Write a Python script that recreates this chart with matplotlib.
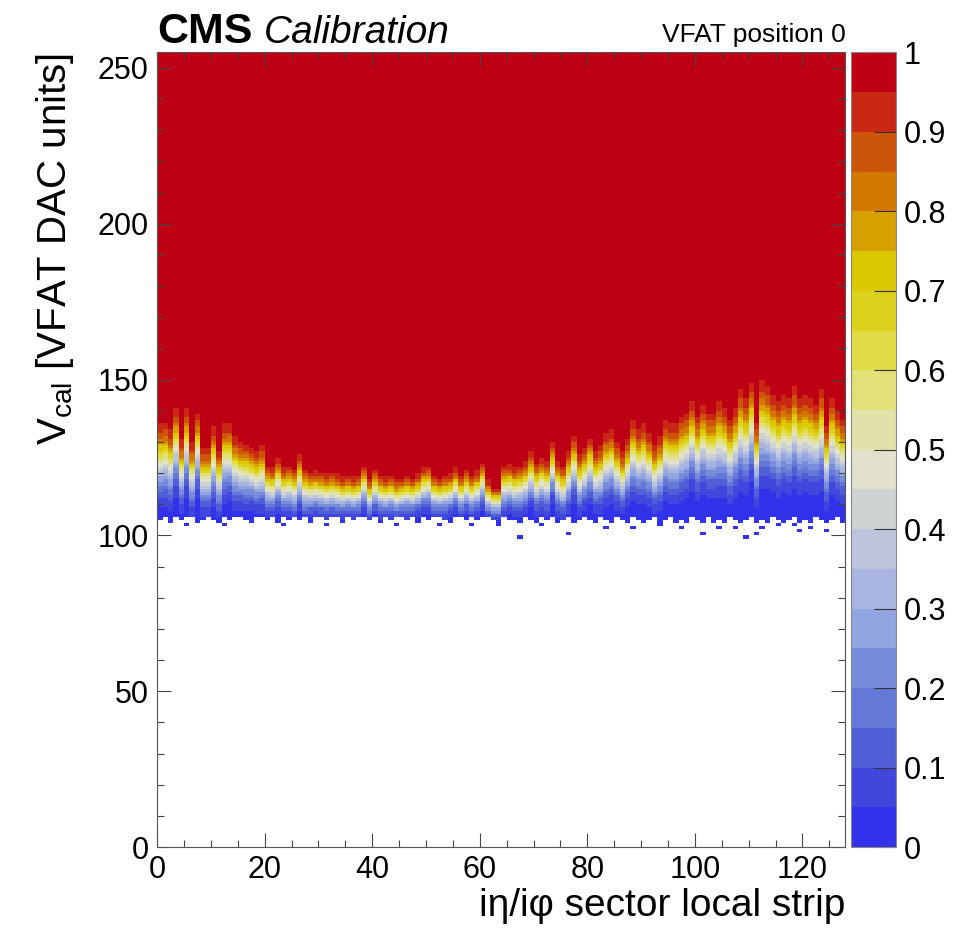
import math
import numpy as np
import matplotlib
matplotlib.use("Agg")
import matplotlib.pyplot as plt
from matplotlib.colors import ListedColormap, BoundaryNorm
from matplotlib.ticker import MultipleLocator

plt.rcParams['font.family'] = ['Liberation Sans', 'DejaVu Sans']
plt.rcParams['mathtext.fontset'] = 'custom'
plt.rcParams['mathtext.rm'] = 'Liberation Sans'

# S-curve midpoint (Vcal) per strip
thr = [123.5, 124, 122, 128, 120, 128, 119, 127, 118, 118,
       123, 117.5, 124, 124.5, 121, 120, 119.5, 119, 118, 119,
       115, 114.5, 117, 114.5, 115, 114, 117.5, 114, 113.5, 114,
       113.5, 113, 113.5, 113, 112.5, 113, 112.5, 113, 115.5, 112,
       114.5, 113, 112.5, 113, 112, 112.5, 113, 112.5, 113.5, 115,
       115.5, 113, 112.5, 113, 113.5, 115, 113, 114.5, 113, 114,
       116.5, 112, 110.5, 110.5, 115, 115.5, 114.5, 115, 116, 118.5,
       115.5, 117, 116, 121, 116, 114.5, 118, 122, 117, 119,
       121.5, 118, 119, 122, 123, 120, 117.5, 121, 125, 123,
       124, 122, 119, 121, 125, 124, 124, 126, 127, 130,
       126, 129, 127, 127, 129, 128, 125, 128, 132, 130,
       134.5, 124, 134, 133, 131, 129, 131, 130, 133, 130,
       131, 130, 129, 132, 123, 130, 127, 125]

# S-curve width per strip (upper side)
sigma = [7.5, 7.5, 7, 8, 6.5, 8, 6.5, 7.5, 6, 6,
         7, 6, 7, 7, 6.5, 6, 6, 5.5, 5.5, 6,
         4.5, 4.5, 5, 4.5, 4.5, 4.5, 5, 4.5, 4, 4,
         4, 4, 4, 4, 3.8, 3.8, 3.8, 3.8, 4.2, 3.8,
         4, 3.8, 3.8, 3.8, 3.6, 3.6, 3.8, 3.6, 3.8, 4.2,
         4.2, 3.8, 3.6, 3.8, 3.8, 4, 3.8, 4, 3.8, 4,
         4.2, 3.5, 3, 3, 4.5, 4.5, 4.5, 4.5, 4.8, 5,
         4.8, 5, 5, 5.5, 5, 4.8, 5.5, 6, 5.5, 5.5,
         6, 5.5, 6, 6.5, 6.5, 6, 5.5, 6, 7, 6.5,
         7, 6.5, 6, 6.5, 7, 7, 7, 7.5, 7.5, 8,
         7.5, 8, 7.5, 7.5, 8.5, 8, 7.5, 8, 9, 8.5,
         9, 7.5, 9.5, 9, 8.5, 8.5, 8.5, 8.5, 9, 8.5,
         8.5, 8.5, 8, 9, 7.5, 8.5, 8, 7.5]
low_side_scale = 1.2

# lowest Vcal bin with entries per strip
floor = [105, 106, 104, 106, 105, 106, 106, 104, 105, 106,
         105, 104, 106, 105, 106, 106, 105, 104, 106, 106,
         105, 106, 104, 106, 105, 106, 105, 106, 104, 106,
         106, 105, 106, 106, 104, 106, 105, 106, 106, 105,
         106, 104, 106, 105, 106, 106, 105, 106, 104, 106,
         105, 106, 106, 105, 104, 106, 106, 105, 106, 105,
         106, 106, 105, 104, 106, 105, 105, 104, 106, 105,
         104, 106, 105, 106, 104, 105, 106, 104, 105, 106,
         105, 104, 106, 105, 104, 106, 105, 104, 106, 105,
         104, 105, 106, 104, 105, 106, 104, 105, 104, 106,
         105, 104, 106, 104, 105, 104, 106, 105, 104, 105,
         106, 104, 105, 104, 106, 105, 104, 105, 106, 104,
         105, 104, 106, 105, 104, 105, 106, 104]

# isolated low entries (strip, Vcal)
dots_strip = [67, 76, 101, 109, 111, 107, 112, 119, 124, 115, 63, 88, 97, 118,
              5, 12, 23, 31, 44, 52, 58, 71, 83, 93, 104, 121]
dots_vcal = [99, 100, 100, 99, 100, 102, 102, 101, 101, 103, 103, 102, 102, 103,
             103, 103, 103, 103, 103, 103, 103, 103, 102, 103, 102, 102]

level_colors = ['#3232eb', '#4146dc', '#505fd7', '#6478d7', '#788cdc',
                '#91a5e1', '#aab4e1', '#bec3dc', '#cdd2d2', '#e1e1cd',
                '#e1e1aa', '#e1e178', '#e1dc46', '#dcd21e', '#dcc800',
                '#d7a000', '#d27800', '#cd550a', '#c82814', '#be0014']

n_strip = len(thr)
n_vcal = 256
z = np.full((n_vcal, n_strip), np.nan)
for i in range(n_strip):
    for v in range(floor[i], n_vcal):
        d = v + 0.5 - thr[i]
        s = sigma[i] * (low_side_scale if d < 0 else 1.0)
        z[v, i] = 0.5 * (1 + math.erf(d / (math.sqrt(2) * s)))
for s, v in zip(dots_strip, dots_vcal):
    z[v, s] = 0.01
z = np.clip(z, 0, 0.9999)
z = np.ma.masked_invalid(z)

fig = plt.figure(figsize=(9.64, 9.36), dpi=100)
ax = fig.add_axes([0.163, 0.095, 0.714, 0.849])
cax = fig.add_axes([0.883, 0.095, 0.046, 0.849])

cmap = ListedColormap(level_colors)
norm = BoundaryNorm(np.linspace(0, 1, 21), cmap.N)
mesh = ax.pcolormesh(np.arange(n_strip + 1), np.arange(n_vcal + 1), z,
                     cmap=cmap, norm=norm, antialiased=False, linewidth=0)

ax.set_xlim(0, 128)
ax.set_ylim(0, 255)
ax.xaxis.set_major_locator(MultipleLocator(20))
ax.xaxis.set_minor_locator(MultipleLocator(5))
ax.yaxis.set_major_locator(MultipleLocator(50))
ax.yaxis.set_minor_locator(MultipleLocator(10))
ax.tick_params(which='both', direction='in', top=True, right=True,
               labelsize=22, width=0.8, color='#444444')
ax.tick_params(which='major', length=10, pad=6)
ax.tick_params(which='minor', length=5)
for sp in ax.spines.values():
    sp.set_color('#555555')
    sp.set_linewidth(0.8)

ax.set_xlabel('iη/iφ sector local strip', fontsize=28, loc='right')
ax.xaxis.set_label_coords(1.0, -0.052)
ax.set_ylabel(r'V$_\mathregular{cal}$ [VFAT DAC units]', fontsize=29, loc='top')
ax.yaxis.set_label_coords(-0.118, 1.0)

cb = fig.colorbar(mesh, cax=cax, ticks=np.round(np.arange(0, 1.01, 0.1), 1))
cb.ax.set_yticklabels(['0', '0.1', '0.2', '0.3', '0.4', '0.5',
                       '0.6', '0.7', '0.8', '0.9', '1'])
cb.ax.tick_params(direction='in', length=16, width=0.8, labelsize=22,
                  color='#333333', pad=6)
cb.ax.minorticks_off()
cb.outline.set_edgecolor('#888888')
cb.outline.set_linewidth(0.8)

fig.text(0.163, 0.954, 'CMS', fontsize=31, fontweight='bold', va='baseline')
fig.text(0.274, 0.954, 'Calibration', fontsize=28, fontstyle='italic', va='baseline')
fig.text(0.877, 0.955, 'VFAT position 0', fontsize=19, ha='right', va='baseline')

fig.savefig('out.png', dpi=100)
